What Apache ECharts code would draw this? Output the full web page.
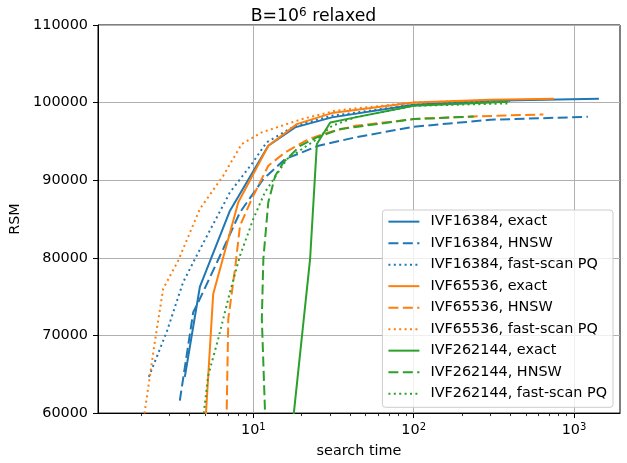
<!DOCTYPE html>
<html><head><meta charset="utf-8">
<script src="https://cdn.jsdelivr.net/npm/echarts@6/dist/echarts.min.js"></script>
<style>html,body{margin:0;padding:0;background:#fff;}#c{width:627px;height:463px;}</style>
</head><body><div id="c"></div>
<script>
// ---- data (x = search time, y = RSM) ----
const ivf16384Exact = [[3.74,64670],[4.64,76250],[7.15,86080],[12.4,94440],[18.2,96810],[30.9,98100],[100,99720],[300,100250],[1430,100490]];
const ivf16384Hnsw = [[3.48,61620],[4.22,73000],[4.64,74710],[6.49,81150],[8.26,85870],[11.55,90160],[15.8,92730],[25.5,94440],[43.2,95520],[100,96890],[300,97790],[1220,98170]];
const ivf16384FastScan = [[2.23,64670],[2.88,70430],[3.65,76860],[4.43,80280],[7.15,88440],[9.77,92090],[12.1,94880],[18.2,97010],[30.9,98300],[100,99740],[400,100230]];
const ivf65536Exact = [[5.02,58600],[5.62,75350],[8.06,87160],[12.4,94440],[18.7,97230],[30.9,98650],[100,100030],[300,100360],[750,100490]];
const ivf65536Hnsw = [[6.8,58600],[6.98,72140],[7.69,78570],[8.26,84140],[9.77,87580],[12.4,91870],[15.8,93590],[22.1,95300],[29.4,96170],[43.2,97010],[100,97880],[237,98220],[644,98480]];
const ivf65536FastScan = [[2.05,58590],[2.43,69140],[2.74,76000],[3.40,79640],[4.64,86290],[6.49,90580],[8.46,94660],[11.3,96170],[20.1,97880],[32.4,98950],[43.2,99250],[100,100000],[300,100300]];
const ivf262144Exact = [[17.6,58590],[22.6,79860],[24.9,94660],[30.2,97450],[43.2,98100],[100,99590],[390,100100]];
const ivf262144Hnsw = [[11.9,58590],[11.3,72140],[11.55,79860],[12.4,87160],[13.7,90580],[15.4,92300],[19.6,94440],[24.9,95520],[34.8,96590],[100,97880],[237,98220]];
const ivf262144FastScan = [[4.82,58590],[5.23,64840],[6.04,69560],[7.15,75570],[8.26,80280],[10.0,85010],[11.8,88440],[16.2,92730],[24.9,95300],[30.9,97010],[43.2,98100],[100,99590],[384,99900]];

const seriesNames = ['IVF16384, exact','IVF16384, HNSW','IVF16384, fast-scan PQ',
  'IVF65536, exact','IVF65536, HNSW','IVF65536, fast-scan PQ',
  'IVF262144, exact','IVF262144, HNSW','IVF262144, fast-scan PQ'];
const xMajorTicks = [10, 100, 1000];
const xMinorTicks = [2,3,4,5,6,7,8,9,20,30,40,50,60,70,80,90,200,300,400,500,600,700,800,900];
const xRange = [1.075, 1935];
const yRange = [60000, 110000];
const yStep = 10000;
const titleExponent = '6';

// ---- styling ----
const FONT = 'DejaVu Sans';
const FS = 14.4;
const colors = ['#1f77b4','#ff7f0e','#2ca02c'];
const dashes = ['solid',[10,4.4],[2,3.4]];
const seriesData = [ivf16384Exact, ivf16384Hnsw, ivf16384FastScan,
  ivf65536Exact, ivf65536Hnsw, ivf65536FastScan,
  ivf262144Exact, ivf262144Hnsw, ivf262144FastScan];

const series = seriesData.map((d, i) => ({
  name: seriesNames[i], type: 'line', data: d,
  xAxisIndex: 0, yAxisIndex: 0,
  symbol: 'none', showSymbol: false, clip: true, animation: false,
  lineStyle: { color: colors[Math.floor(i/3)], width: 2, type: dashes[i%3], cap: 'butt' },
  itemStyle: { color: colors[Math.floor(i/3)] }
}));

const chart = echarts.init(document.getElementById('c'), null, { renderer: 'canvas' });
chart.setOption({
  animation: false,
  backgroundColor: '#fff',
  textStyle: { fontFamily: FONT },
  title: {
    text: '{a|B=10}{s|' + titleExponent + '}{a| relaxed}',
    left: 'center', top: 2,
    textStyle: { fontWeight: 'normal', rich: {
      a: { fontFamily: FONT, fontSize: 17.3, fontWeight: 'normal', color: '#000', lineHeight: 20 },
      s: { fontFamily: FONT, fontSize: 12, fontWeight: 'normal', color: '#000', lineHeight: 20, padding: [0,0,8,0] }
    } }
  },
  grid: { left: 98, right: 7, top: 25, bottom: 49, show: true, borderColor: '#000', borderWidth: 1, backgroundColor: 'transparent' },
  legend: {
    orient: 'vertical', right: 14, top: 210,
    data: seriesNames,
    itemWidth: 31, itemHeight: 14, itemGap: 4.2,
    padding: [3, 6, 5, 5],
    backgroundColor: 'rgba(255,255,255,0.8)', borderColor: '#cccccc', borderWidth: 1, borderRadius: 3,
    itemStyle: { color: 'transparent', borderColor: 'transparent', borderWidth: 0, opacity: 0 },
    textStyle: { fontFamily: FONT, fontSize: FS, lineHeight: 17.3, color: '#000', padding: [0,0,0,6] }
  },
  xAxis: [{
    type: 'log', logBase: 10, min: xRange[0], max: xRange[1], position: 'bottom',
    name: 'search time', nameLocation: 'middle', nameGap: 30,
    nameTextStyle: { fontFamily: FONT, fontSize: FS, color: '#000' },
    axisLine: { show: true, lineStyle: { color: '#000', width: 1 } },
    axisTick: { show: true, customValues: xMajorTicks, length: 5, lineStyle: { color: '#000', width: 1 } },
    axisLabel: {
      customValues: xMajorTicks, margin: 9,
      formatter: v => '{b|10}{s|' + Math.round(Math.log10(v)) + '}',
      rich: {
        b: { fontFamily: FONT, fontSize: FS, color: '#000', lineHeight: 17 },
        s: { fontFamily: FONT, fontSize: 10, color: '#000', lineHeight: 17, padding: [0,0,7,0] }
      }
    },
    splitLine: { show: true, lineStyle: { color: '#b0b0b0', width: 1 } },
    minorTick: { show: false }
  }, {
    type: 'log', logBase: 10, min: xRange[0], max: xRange[1], position: 'bottom', offset: 0,
    axisLine: { show: false },
    axisTick: { show: true, customValues: xMinorTicks, length: 3, lineStyle: { color: '#000', width: 0.8 } },
    axisLabel: { show: false },
    splitLine: { show: false }
  }],
  yAxis: {
    type: 'value', min: yRange[0], max: yRange[1], interval: yStep,
    name: 'RSM', nameLocation: 'middle', nameGap: 65,
    nameTextStyle: { fontFamily: FONT, fontSize: FS, color: '#000' },
    axisLine: { show: true, lineStyle: { color: '#000', width: 1 } },
    axisTick: { show: true, length: 5, lineStyle: { color: '#000', width: 1 } },
    axisLabel: { fontFamily: FONT, fontSize: FS, color: '#000', margin: 10, formatter: v => String(v) },
    splitLine: { show: true, lineStyle: { color: '#b0b0b0', width: 1 } }
  },
  series: series
});
</script></body></html>
